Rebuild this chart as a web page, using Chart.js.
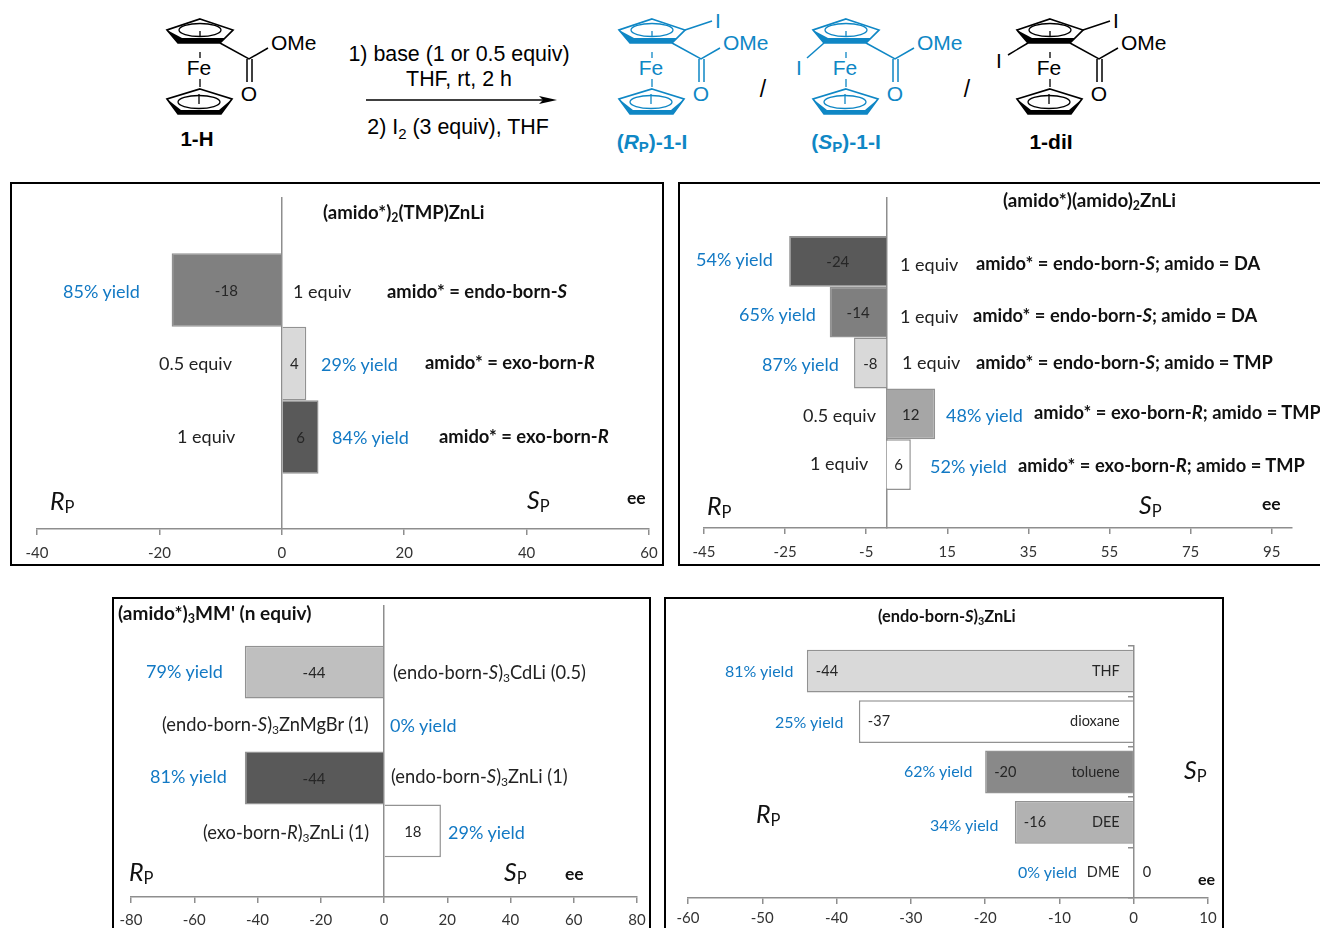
<!DOCTYPE html>
<html>
<head>
<meta charset="utf-8">
<title>ee charts</title>
<script src="https://cdn.jsdelivr.net/npm/chart.js@4/dist/chart.umd.min.js"></script>
<style>
  html, body { margin: 0; padding: 0; background: #fff; overflow: hidden; width: 1320px; height: 928px; }
  body { position: relative; font-family: Lato, sans-serif; color: #222; }
  .panel { position: absolute; box-sizing: border-box; border: 2px solid #000; background: #fff; }
  canvas { position: absolute; }
  .note { position: absolute; white-space: nowrap; transform: translateY(-50%); line-height: 1; }
  .yield { color: #1279c4; }
  .bold { font-weight: bold; color: #111; }
  .axisName { font-size: 25px; color: #111; }
  .axisName sub { font-size: 17px; vertical-align: -6px; line-height: 0; }
  .note sub { font-size: 66%; line-height: 0; vertical-align: -3px; }
  #scheme { position: absolute; left: 0; top: 0; }
  #scheme text { font-family: "Liberation Sans", Arial, sans-serif; }
</style>
</head>
<body>

<!-- reaction scheme -->
<svg id="scheme" width="1320" height="170" xmlns="http://www.w3.org/2000/svg">
  <defs>
    <g id="ferrocene">
      <path d="M200 19 L233 30 L220 43 L178 43 L167 30 Z" fill="none" stroke="currentColor" stroke-width="1.7"/>
      <path d="M167 30 L178 43 L220 43 L225 38 L182 38 Z" fill="currentColor"/>
      <ellipse cx="200" cy="30" rx="21" ry="6.5" fill="none" stroke="currentColor" stroke-width="1.3"/>
      <path d="M200 31 V36 M200 52 V58 M200 79 V87" stroke="currentColor" stroke-width="1.3"/>
      <path d="M200 89 L232 99 L221 114 L178 114 L167 99 Z" fill="none" stroke="currentColor" stroke-width="1.7"/>
      <path d="M167 99 L178 114 L221 114 L232 99 L219 110 L181 110 Z" fill="currentColor"/>
      <ellipse cx="199" cy="102" rx="21" ry="6.5" fill="none" stroke="currentColor" stroke-width="1.3"/>
      <path d="M199 94 V104" stroke="currentColor" stroke-width="1.3"/>
      <path d="M220 43 L249 59 L268 48 M247 59 V82 M252 59 V82" fill="none" stroke="currentColor" stroke-width="1.5"/>
      <text x="199" y="75" font-size="21" text-anchor="middle" fill="currentColor">Fe</text>
      <text x="271" y="50" font-size="21" fill="currentColor">OMe</text>
      <text x="249" y="101" font-size="21" text-anchor="middle" fill="currentColor">O</text>
    </g>
  </defs>

  <use href="#ferrocene" style="color:#000"/>
  <text x="197" y="146" font-size="20.5" font-weight="bold" text-anchor="middle">1-H</text>

  <text x="459" y="61" font-size="21.4" text-anchor="middle">1) base (1 or 0.5 equiv)</text>
  <text x="459" y="86" font-size="21.4" text-anchor="middle">THF, rt, 2 h</text>
  <path d="M366 100 H545" stroke="#000" stroke-width="1.6"/>
  <path d="M557 100 L539 96 L543 100 L539 104 Z" fill="#000"/>
  <text x="458" y="134" font-size="21.4" text-anchor="middle">2) I<tspan font-size="15" dy="5">2</tspan><tspan dy="-5"> (3 equiv), THF</tspan></text>

  <g transform="translate(452 0)" style="color:#0f87c5">
    <use href="#ferrocene"/>
    <path d="M233 30 L260 21" stroke="currentColor" stroke-width="1.5"/>
    <text x="266" y="28" font-size="21" text-anchor="middle" fill="currentColor">I</text>
  </g>
  <g transform="translate(646 0)" style="color:#0f87c5">
    <use href="#ferrocene"/>
    <path d="M178 43 L161 58" stroke="currentColor" stroke-width="1.5"/>
    <text x="153" y="75" font-size="21" text-anchor="middle" fill="currentColor">I</text>
  </g>
  <g transform="translate(850 0)" style="color:#000">
    <use href="#ferrocene"/>
    <path d="M233 30 L260 21 M178 43 L158 55" stroke="currentColor" stroke-width="1.5"/>
    <text x="266" y="28" font-size="21" text-anchor="middle" fill="currentColor">I</text>
    <text x="149" y="68" font-size="21" text-anchor="middle" fill="currentColor">I</text>
  </g>

  <text x="763" y="97" font-size="23" text-anchor="middle">/</text>
  <text x="967" y="97" font-size="23" text-anchor="middle">/</text>

  <text x="652" y="149" font-size="21" font-weight="bold" text-anchor="middle" fill="#0f87c5">(<tspan font-style="italic">R</tspan><tspan font-size="15" dy="3">P</tspan><tspan dy="-3">)-1-I</tspan></text>
  <text x="846" y="149" font-size="21" font-weight="bold" text-anchor="middle" fill="#0f87c5">(<tspan font-style="italic">S</tspan><tspan font-size="15" dy="3">P</tspan><tspan dy="-3">)-1-I</tspan></text>
  <text x="1051" y="149" font-size="21" font-weight="bold" text-anchor="middle">1-diI</text>
</svg>

<script>
// panel A: (amido*)2(TMP)ZnLi
const valuesA = [-18, 4, 6];
const colorsA = ['#808080', '#d9d9d9', '#595959'];
const ticksA = [-40, -20, 0, 20, 40, 60];
const yieldsA = ['85% yield', '29% yield', '84% yield'];

// panel B: (amido*)(amido)2ZnLi
const valuesB = [-24, -14, -8, 12, 6];
const colorsB = ['#595959', '#7f7f7f', '#d9d9d9', '#a6a6a6', '#ffffff'];
const ticksB = [-45, -25, -5, 15, 35, 55, 75, 95];
const yieldsB = ['54% yield', '65% yield', '87% yield', '48% yield', '52% yield'];

// panel C: (amido*)3MM'
const valuesC = [-44, 0, -44, 18];
const colorsC = ['#bfbfbf', '#ffffff', '#595959', '#ffffff'];
const ticksC = [-80, -60, -40, -20, 0, 20, 40, 60, 80];
const yieldsC = ['79% yield', '0% yield', '81% yield', '29% yield'];

// panel D: solvents
const solventsD = ['THF', 'dioxane', 'toluene', 'DEE', 'DME'];
const valuesD = [-44, -37, -20, -16, 0];
const colorsD = ['#d9d9d9', '#ffffff', '#898989', '#b2b2b2', '#ffffff'];
const ticksD = [-60, -50, -40, -30, -20, -10, 0, 10];
const yieldsD = ['81% yield', '25% yield', '62% yield', '34% yield', '0% yield'];

const AXIS_GREY = '#8e8e8e';
const BAR_EDGE = '#929292';

// writes the value on each bar, and the solvent name for panel D
const barText = {
  id: 'barText',
  afterDatasetsDraw(chart, args, opts) {
    const ctx = chart.ctx;
    ctx.save();
    ctx.fillStyle = '#262626';
    ctx.font = opts.size + 'px Lato';
    ctx.textBaseline = 'middle';
    chart.data.datasets.forEach((ds, i) => {
      chart.getDatasetMeta(i).data.forEach((bar, j) => {
        const v = ds.data[j];
        if (opts.solvents) {
          const zero = chart.scales.x.getPixelForValue(0);
          ctx.textAlign = 'left';
          ctx.fillText(v, v === 0 ? zero + 9 : bar.x + 9, bar.y);
          ctx.textAlign = 'right';
          ctx.fillText(opts.solvents[j], zero - 14, bar.y);
        } else if (v !== 0) {
          ctx.textAlign = 'center';
          ctx.fillText(v, (bar.x + bar.base) / 2, bar.y + 1);
        }
      });
    });
    ctx.restore();
  }
};

// box = panel frame, plot = axis rectangle, both in page pixels
function makePanel(box, plot, cfg) {
  const frame = document.createElement('div');
  frame.className = 'panel';
  frame.style.cssText = `left:${box.x0}px;top:${box.y0}px;width:${box.x1 - box.x0}px;height:${box.y1 - box.y0}px`;
  document.body.appendChild(frame);

  const canvas = document.createElement('canvas');
  const w = box.x1 - box.x0, h = box.y1 - box.y0;
  canvas.width = w;
  canvas.height = h;
  canvas.style.cssText = `left:${box.x0}px;top:${box.y0}px;width:${w}px;height:${h}px`;
  document.body.appendChild(canvas);

  const axisH = 30;
  new Chart(canvas, {
    type: 'bar',
    data: { labels: cfg.labels, datasets: cfg.datasets },
    plugins: [barText],
    options: {
      indexAxis: 'y',
      responsive: false,
      animation: false,
      devicePixelRatio: 1,
      layout: {
        padding: {
          left: plot.x0 - box.x0,
          right: box.x1 - plot.x1,
          top: plot.y0 - box.y0,
          bottom: box.y1 - plot.y1 - axisH
        }
      },
      plugins: {
        legend: { display: false },
        tooltip: { enabled: false },
        barText: { size: cfg.textSize, solvents: cfg.solvents }
      },
      scales: {
        x: {
          type: 'linear',
          position: 'bottom',
          min: cfg.min,
          max: cfg.max,
          afterBuildTicks: s => { s.ticks = cfg.ticks.map(v => ({ value: v })); },
          // keep the plot width fixed, the edge labels fit in the layout padding
          afterFit: s => { s.height = axisH; s.paddingLeft = 0; s.paddingRight = 0; },
          border: { display: true, color: AXIS_GREY, width: 1.5 },
          grid: { drawOnChartArea: false, drawTicks: true, tickLength: 6, color: AXIS_GREY, lineWidth: 1.5 },
          ticks: {
            autoSkip: false, maxRotation: 0, padding: cfg.tickPad,
            color: '#333',
            font: { family: 'Lato', size: 15 },
            callback: v => String(v)
          }
        },
        y: {
          type: 'category',
          position: { x: 0 },
          border: { display: true, color: AXIS_GREY, width: 1.5 },
          grid: {
            drawOnChartArea: false,
            drawTicks: !!cfg.yTicks,
            tickLength: 5,
            color: AXIS_GREY,
            lineWidth: 1.5
          },
          ticks: { display: false }
        }
      }
    }
  });
}

// one category, one dataset per bar: the bars touch and leave a gap at both ends
function singleCategory(values, colors) {
  return {
    labels: ['ee'],
    datasets: values.map((v, i) => ({
      data: [v],
      backgroundColor: colors[i],
      borderColor: BAR_EDGE,
      borderWidth: 1.5,
      barPercentage: 1,
      categoryPercentage: values.length / (values.length + 1.5)
    }))
  };
}

makePanel({ x0: 10, y0: 182, x1: 664, y1: 566 }, { x0: 37, y0: 198, x1: 649, y1: 529 },
  { ...singleCategory(valuesA, colorsA), min: -40, max: 60, ticks: ticksA, textSize: 15, tickPad: 9 });

makePanel({ x0: 678, y0: 182, x1: 1340, y1: 566 }, { x0: 704, y0: 198, x1: 1292, y1: 528 },
  { ...singleCategory(valuesB, colorsB), min: -45, max: 100, ticks: ticksB, textSize: 15, tickPad: 9 });

makePanel({ x0: 112, y0: 597, x1: 651, y1: 950 }, { x0: 131, y0: 606, x1: 637, y1: 897 },
  { ...singleCategory(valuesC, colorsC), min: -80, max: 80, ticks: ticksC, textSize: 15, tickPad: 8 });

makePanel({ x0: 664, y0: 597, x1: 1224, y1: 950 }, { x0: 688, y0: 646, x1: 1208, y1: 898 }, {
  labels: solventsD,
  datasets: [{
    data: valuesD,
    backgroundColor: colorsD,
    borderColor: BAR_EDGE,
    borderWidth: 1.5,
    barPercentage: 0.85,
    categoryPercentage: 1
  }],
  min: -60, max: 10, ticks: ticksD, textSize: 14.5, tickPad: 5, solvents: solventsD, yTicks: true
});

// text around the bars
function note(html, x, y, size, cls) {
  const el = document.createElement('div');
  el.className = 'note ' + (cls || '');
  el.style.left = x + 'px';
  el.style.top = y + 'px';
  if (size) el.style.fontSize = size + 'px';
  el.innerHTML = html;
  document.body.appendChild(el);
}
const rp = '<i>R</i><sub>P</sub>';
const sp = '<i>S</i><sub>P</sub>';

// panel A
note('(amido*)<sub>2</sub>(TMP)ZnLi', 323, 212, 18.6, 'bold');
note(yieldsA[0], 63, 291, 18, 'yield');
note('1 equiv', 293, 291, 18);
note('amido* = endo-born-<i>S</i>', 387, 291, 18.4, 'bold');
note('0.5 equiv', 159, 363, 18);
note(yieldsA[1], 321, 364, 18, 'yield');
note('amido* = exo-born-<i>R</i>', 425, 362, 18.4, 'bold');
note('1 equiv', 177, 436, 18);
note(yieldsA[2], 332, 437, 18, 'yield');
note('amido* = exo-born-<i>R</i>', 439, 436, 18.4, 'bold');
note(rp, 50, 500, 0, 'axisName');
note(sp, 527, 499, 0, 'axisName');
note('ee', 627, 498, 17.5, 'bold');

// panel B
note('(amido*)(amido)<sub>2</sub>ZnLi', 1003, 200, 18.8, 'bold');
note(yieldsB[0], 696, 259, 18, 'yield');
note('1 equiv', 900, 264, 18);
note('amido* = endo-born-<i>S</i>; amido = DA', 976, 263, 18.3, 'bold');
note(yieldsB[1], 739, 314, 18, 'yield');
note('1 equiv', 900, 316, 18);
note('amido* = endo-born-<i>S</i>; amido = DA', 973, 315, 18.3, 'bold');
note(yieldsB[2], 762, 364, 18, 'yield');
note('1 equiv', 902, 362, 18);
note('amido* = endo-born-<i>S</i>; amido = TMP', 976, 362, 18.3, 'bold');
note('0.5 equiv', 803, 415, 18);
note(yieldsB[3], 946, 415, 18, 'yield');
note('amido* = exo-born-<i>R</i>; amido = TMP', 1034, 412, 18.3, 'bold');
note('1 equiv', 810, 463, 18);
note(yieldsB[4], 930, 466, 18, 'yield');
note('amido* = exo-born-<i>R</i>; amido = TMP', 1018, 465, 18.3, 'bold');
note(rp, 707, 505, 0, 'axisName');
note(sp, 1139, 504, 0, 'axisName');
note('ee', 1262, 504, 17.5, 'bold');

// panel C
note("(amido*)<sub>3</sub>MM' (n equiv)", 118, 612, 19, 'bold');
note(yieldsC[0], 146, 671, 18, 'yield');
note('(endo-born-<i>S</i>)<sub>3</sub>CdLi (0.5)', 393, 672, 18.3);
note('(endo-born-<i>S</i>)<sub>3</sub>ZnMgBr (1)', 162, 724, 18.3);
note(yieldsC[1], 390, 725, 18, 'yield');
note(yieldsC[2], 150, 776, 18, 'yield');
note('(endo-born-<i>S</i>)<sub>3</sub>ZnLi (1)', 391, 776, 18.3);
note('(exo-born-<i>R</i>)<sub>3</sub>ZnLi (1)', 203, 832, 18.3);
note(yieldsC[3], 448, 832, 18, 'yield');
note(rp, 129, 871, 0, 'axisName');
note(sp, 504, 871, 0, 'axisName');
note('ee', 565, 874, 17.5, 'bold');

// panel D
note('(endo-born-<i>S</i>)<sub>3</sub>ZnLi', 878, 616, 16.4, 'bold');
note(yieldsD[0], 725, 671, 16, 'yield');
note(yieldsD[1], 775, 722, 16, 'yield');
note(yieldsD[2], 904, 771, 16, 'yield');
note(yieldsD[3], 930, 825, 16, 'yield');
note(yieldsD[4], 1018, 872, 16, 'yield');
note(rp, 756, 813, 0, 'axisName');
note(sp, 1184, 769, 0, 'axisName');
note('ee', 1198, 879, 16, 'bold');
</script>
</body>
</html>
